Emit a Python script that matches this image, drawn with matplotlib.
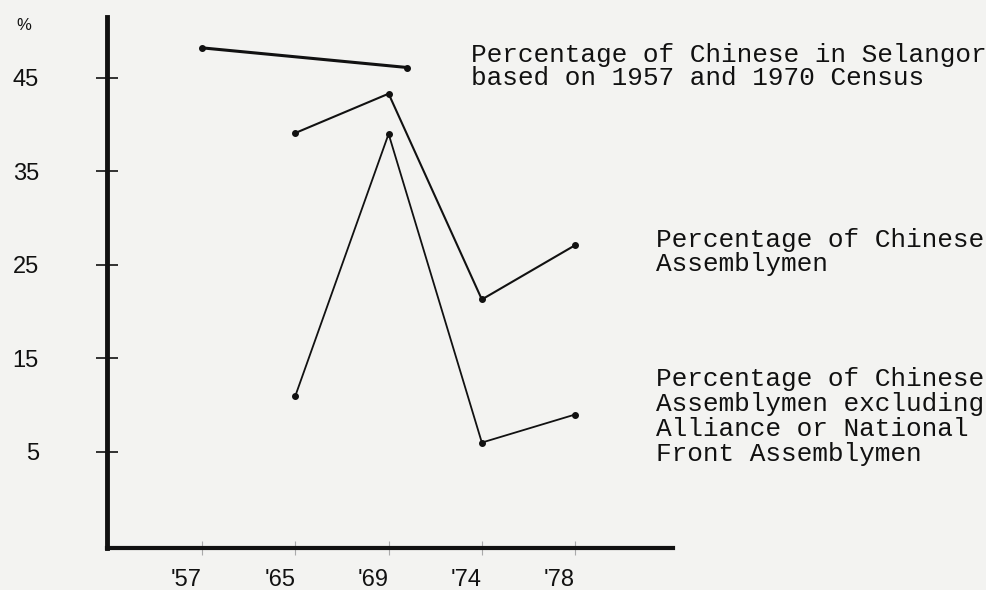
import numpy as np
import matplotlib.pyplot as plt

# * Data
year_labels = ["'57", "'65", "'69", "'74", "'78"]
year_pos = [0, 1, 2, 3, 4]

# census line: 1957 and 1970 (1970 sits a fifth of the way from '69 to '74)
census_x = [0, 2.2]
census_pct = [48.2, 46.1]

# elections '65 .. '78
election_x = [1, 2, 3, 4]
assembly_pct = [39.1, 43.3, 21.3, 27.1]
excl_front_pct = [11.0, 39.0, 6.0, 9.0]

y_ticks = [5, 15, 25, 35, 45]

paper = '#f3f3f1'
ink = '#111111'
type_font = 'Liberation Mono'
hand_font = 'Liberation Sans'

fig = plt.figure(figsize=(9.87, 5.90), dpi=100, facecolor=paper)
ax = fig.add_axes([107 / 987, 42 / 590, 566 / 987, 531 / 590])
ax.set_facecolor(paper)

ax.plot(census_x, census_pct, color=ink, lw=2.2, marker='o', ms=4)
ax.plot(election_x, assembly_pct, color=ink, lw=1.5, marker='o', ms=4)
ax.plot(election_x, excl_front_pct, color=ink, lw=1.3, marker='o', ms=4)

ax.set_xlim(-1.02, 5.05)
ax.set_ylim(-5.27, 51.5)

# * Axes look: only left and bottom spines, thick ink
for side in ['top', 'right']:
    ax.spines[side].set_visible(False)
ax.spines['left'].set_linewidth(3.5)
ax.spines['bottom'].set_linewidth(3.0)
ax.spines['left'].set_color(ink)
ax.spines['bottom'].set_color(ink)

ax.set_yticks(y_ticks)
ax.set_yticklabels([str(v) for v in y_ticks], fontfamily=hand_font, fontsize=17)
ax.tick_params(axis='y', direction='inout', length=16, width=1.2, color=ink,
               pad=41, labelcolor=ink)

ax.set_xticks(year_pos)
ax.set_xticklabels(year_labels, fontfamily=hand_font, fontsize=17, ha='right')
ax.tick_params(axis='x', direction='inout', length=10, width=0.8, color='#aaaaaa',
               pad=10, labelcolor=ink)

fig.text(16 / 987, 1 - 25 / 590, '%', fontsize=12, fontfamily=hand_font,
         color=ink, ha='left', va='center')

# * Typewritten notes to the right
fig.text(471 / 987, 1 - 43 / 590,
         'Percentage of Chinese in Selangor\nbased on 1957 and 1970 Census',
         fontfamily=type_font, fontsize=18.8, color=ink, ha='left', va='top',
         linespacing=0.95)
fig.text(656 / 987, 1 - 228 / 590,
         'Percentage of Chinese\nAssemblymen',
         fontfamily=type_font, fontsize=18.8, color=ink, ha='left', va='top',
         linespacing=1.0)
fig.text(656 / 987, 1 - 367 / 590,
         'Percentage of Chinese\nAssemblymen excluding\nAlliance or National\nFront Assemblymen',
         fontfamily=type_font, fontsize=18.8, color=ink, ha='left', va='top',
         linespacing=1.06)

fig.savefig('out.png', dpi=100, facecolor=paper)
